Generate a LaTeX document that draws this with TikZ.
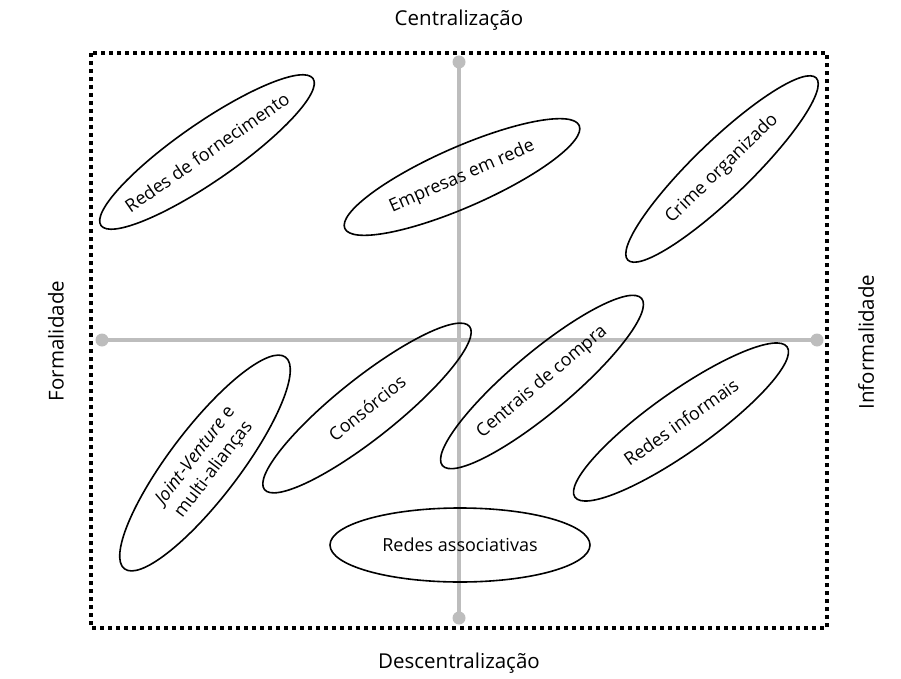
\documentclass[tikz,border=0pt]{standalone}
\usepackage{fontspec}
\setmainfont{Open Sans}
\usetikzlibrary{shapes.geometric}
\definecolor{axisgrey}{HTML}{BDBDBD}
\tikzset{
  oval/.style={draw=black, line width=1.6pt, ellipse, inner sep=0pt},
  lbl/.style={font=\fontsize{18}{20}\selectfont, inner sep=0pt, align=center},
  axlbl/.style={font=\fontsize{20.5}{22}\selectfont, inner sep=0pt},
  axisline/.style={draw=axisgrey, line width=4pt},
  axisdot/.style={circle, fill=axisgrey, minimum size=13pt, inner sep=0pt},
  frame/.style={draw=black, line width=4pt, dash pattern=on 4pt off 4pt}
}
\begin{document}
\begin{tikzpicture}[x=1pt,y=-1pt]
\useasboundingbox (0,0) rectangle (901,679);
% frame
\draw[frame] (91,53) rectangle (827,628);
% axes
\node[axisdot] (ntop) at (459,62) {};
\node[axisdot] (nbot) at (459,618) {};
\node[axisdot] (nleft) at (102,340) {};
\node[axisdot] (nright) at (817,340) {};
\draw[axisline] (ntop.center) -- (nbot.center);
\draw[axisline] (nleft.center) -- (nright.center);
% axis labels
\node[axlbl] (tcen) at (459,20) {Centralização};
\node[axlbl] (tdes) at (459,663) {Descentralização};
\node[axlbl, rotate=90] (tfor) at (56,341) {Formalidade};
\node[axlbl, rotate=90] (tinf) at (866,342) {Informalidade};
% ellipses
\node[oval, rotate=34.7, minimum width=258, minimum height=58] (rf) at (207,152) {};
\node[lbl, rotate=34.7] (rft) at (rf.center) {Redes de fornecimento};
\node[oval, rotate=23.7, minimum width=256, minimum height=60] (er) at (462,177) {};
\node[lbl, rotate=23.7] (ert) at (er.center) {Empresas em rede};
\node[oval, rotate=44, minimum width=262, minimum height=56] (co) at (722,169) {};
\node[lbl, rotate=44] (cot) at (co.center) {Crime organizado};
\node[oval, rotate=52.7, minimum width=266, minimum height=70] (jv) at (205,463) {};
\node[lbl, rotate=52.7, font=\fontsize{18}{23}\selectfont] (jvt) at (jv.center) {\textit{Joint}-\textit{Venture} e\\multi-alianças};
\node[oval, rotate=38.5, minimum width=262, minimum height=60] (cs) at (367,408) {};
\node[lbl, rotate=38.5] (cst) at (cs.center) {Consórcios};
\node[oval, rotate=40, minimum width=260, minimum height=60] (cc) at (542,382) {};
\node[lbl, rotate=40] (cct) at (cc.center) {Centrais de compra};
\node[oval, rotate=35.3, minimum width=260, minimum height=60] (ri) at (681,422) {};
\node[lbl, rotate=35.3] (rit) at (ri.center) {Redes informais};
\node[oval, minimum width=260, minimum height=74] (ra) at (460,545) {};
\node[lbl] (rat) at (ra.center) {Redes associativas};
\end{tikzpicture}
\end{document}
